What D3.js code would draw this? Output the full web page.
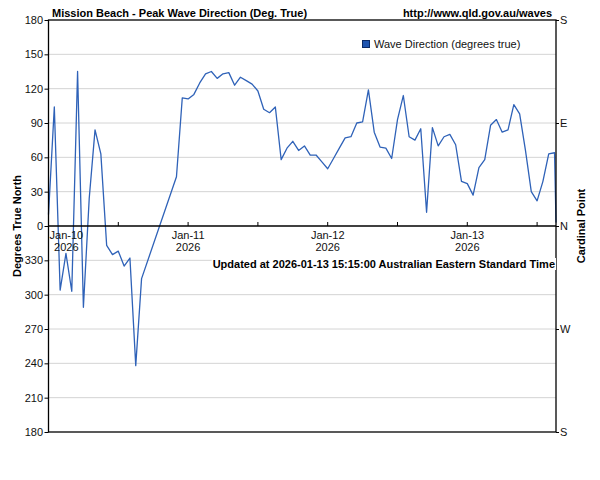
<!DOCTYPE html>
<html>
<head>
<meta charset="utf-8">
<script src="https://cdn.jsdelivr.net/npm/d3@7"></script>
<style>
  body { margin: 0; background: #fff; }
  svg { font-family: "Liberation Sans", Arial, sans-serif; }
</style>
</head>
<body>
<svg width="600" height="480"></svg>
<script>
// hourly peak wave direction (deg true) from Jan 10 00:00, null = no reading
const startTime = new Date(2026, 0, 10, 0, 0);
const hourlyDirection = [
  10, 104, 304, 336, 303, 135, 289, 24, 84, 63, 343, 335, 338, 325, 332, 238,
  314, null, null, null, null, null, 43, 112,
  111, 115, 125, 133, 135, 129, 133, 134, 123, 130, 127, 124, 118, 102, 99, 104,
  58, 68, 74, 66, 70, 62, 62, 56,
  50, 59, 68, 77, 78, 90, 91, 119, 82, 69, 68, 59, 93, 114, 78, 75,
  85, 12, 86, 70, 78, 80, 71, 39,
  37, 27, 51, 58, 88, 93, 82, 84, 106, 98, 66, 30, 22, 39, 63, 64
];
const lastReadingTime = new Date(2026, 0, 13, 15, 15);
const lastReadingDirection = 3;

const leftTicks = [180, 150, 120, 90, 60, 30, 0, 330, 300, 270, 240, 210, 180];
const cardinalLabels = ["S", "E", "N", "W", "S"];
const cardinalDeg = [180, 90, 0, -90, -180];

const titleText = "Mission Beach - Peak Wave Direction (Deg. True)";
const siteText = "http://www.qld.gov.au/waves";
const legendText = "Wave Direction (degrees true)";
const updatedText = "Updated at 2026-01-13 15:15:00 Australian Eastern Standard Time";

const svg = d3.select("svg");
const plotLeft = 48.5, plotRight = 556, plotTop = 20, plotBottom = 432;
const lineColor = "#2f62b8";
const fs = 11;

// build readings, skipping gaps so the line joins across them
const readings = hourlyDirection
  .map((d, i) => ({ time: d3.timeHour.offset(startTime, i), dir: d }))
  .filter(d => d.dir !== null);
readings.push({ time: lastReadingTime, dir: lastReadingDirection });

// directions above 180 are drawn below the N line
const shown = d => d > 180 ? d - 360 : d;

const x = d3.scaleTime().domain([startTime, lastReadingTime]).range([plotLeft, plotRight]);
const y = d3.scaleLinear().domain([-180, 180]).range([plotBottom, plotTop]);

// grid
const gridVals = d3.range(-150, 180, 30).filter(v => v !== 0);
svg.append("g").selectAll("line").data(gridVals).join("line")
  .attr("x1", plotLeft).attr("x2", plotRight)
  .attr("y1", d => y(d)).attr("y2", d => y(d))
  .attr("stroke", "#d4d4d4").attr("stroke-width", 1);

// data line
svg.append("path")
  .datum(readings)
  .attr("fill", "none")
  .attr("stroke", lineColor)
  .attr("stroke-width", 1.3)
  .attr("stroke-linejoin", "round")
  .attr("d", d3.line().x(d => x(d.time)).y(d => y(shown(d.dir))));

// frame
svg.append("rect")
  .attr("x", plotLeft).attr("y", plotTop)
  .attr("width", plotRight - plotLeft).attr("height", plotBottom - plotTop)
  .attr("fill", "none").attr("stroke", "#000").attr("stroke-width", 1.3);

// left axis
const leftAxis = d3.axisLeft(y)
  .tickValues(d3.range(-180, 181, 30))
  .tickFormat((d, i) => leftTicks[leftTicks.length - 1 - i])
  .tickSize(4).tickPadding(1.5);
const gl = svg.append("g").attr("transform", `translate(${plotLeft},0)`).call(leftAxis);
gl.select(".domain").remove();
gl.selectAll("text").attr("font-size", fs).attr("fill", "#111").attr("font-family", null);

// right axis
const rightAxis = d3.axisRight(y)
  .tickValues(cardinalDeg)
  .tickFormat((d, i) => cardinalLabels[i])
  .tickSize(3).tickPadding(1);
const gr = svg.append("g").attr("transform", `translate(${plotRight},0)`).call(rightAxis);
gr.select(".domain").remove();
gr.selectAll("text").attr("font-size", fs).attr("fill", "#111").attr("font-family", null);

// x axis on the N line, ticks pointing up
const zeroY = y(0);
svg.append("line")
  .attr("x1", plotLeft).attr("x2", plotRight)
  .attr("y1", zeroY).attr("y2", zeroY)
  .attr("stroke", "#000").attr("stroke-width", 1.3);
const halfDays = d3.timeHour.every(12).range(d3.timeHour.offset(startTime, 1), lastReadingTime);
svg.append("g").selectAll("line").data(halfDays).join("line")
  .attr("x1", d => x(d)).attr("x2", d => x(d))
  .attr("y1", zeroY).attr("y2", zeroY - 4)
  .attr("stroke", "#000");
const days = d3.timeDay.range(startTime, lastReadingTime);
const dayLabels = svg.append("g").selectAll("g").data(days).join("g")
  .attr("font-size", fs).attr("fill", "#111").attr("text-anchor", "middle");
dayLabels.append("text").attr("y", zeroY + 12.5).text(d3.timeFormat("%b-%d"));
dayLabels.append("text").attr("y", zeroY + 25).text(d3.timeFormat("%Y"));
dayLabels.each(function(d) {
  const g = d3.select(this);
  const w = this.getBBox().width;
  let cx = x(d);
  if (cx - w / 2 < plotLeft + 1) cx = plotLeft + 1 + w / 2;
  g.attr("transform", `translate(${cx},0)`);
});

// titles
svg.append("text").attr("x", 52).attr("y", 17)
  .attr("font-size", fs).attr("font-weight", "bold").text(titleText);
svg.append("text").attr("x", 552).attr("y", 17).attr("text-anchor", "end")
  .attr("font-size", fs).attr("font-weight", "bold").text(siteText);

svg.append("text")
  .attr("transform", `translate(21,${(plotTop + plotBottom) / 2}) rotate(-90)`)
  .attr("text-anchor", "middle").attr("font-size", fs).attr("font-weight", "bold")
  .text("Degrees True North");
svg.append("text")
  .attr("transform", `translate(585,${(plotTop + plotBottom) / 2}) rotate(-90)`)
  .attr("text-anchor", "middle").attr("font-size", fs).attr("font-weight", "bold")
  .text("Cardinal Point");

// legend
svg.append("rect").attr("x", 362.5).attr("y", 40.5).attr("width", 7).attr("height", 7)
  .attr("fill", "#1f55b0").attr("stroke", "#0b2a66").attr("stroke-width", 1);
svg.append("text").attr("x", 374).attr("y", 48).attr("font-size", fs)
  .attr("fill", "#111").text(legendText);

// updated note with white backing
const upd = svg.append("text").attr("x", 555).attr("y", 268).attr("text-anchor", "end")
  .attr("font-size", fs).attr("font-weight", "bold").text(updatedText);
const bb = upd.node().getBBox();
svg.insert("rect", () => upd.node())
  .attr("x", bb.x - 1).attr("y", bb.y).attr("width", bb.width + 2).attr("height", bb.height)
  .attr("fill", "#fff");
</script>
</body>
</html>
